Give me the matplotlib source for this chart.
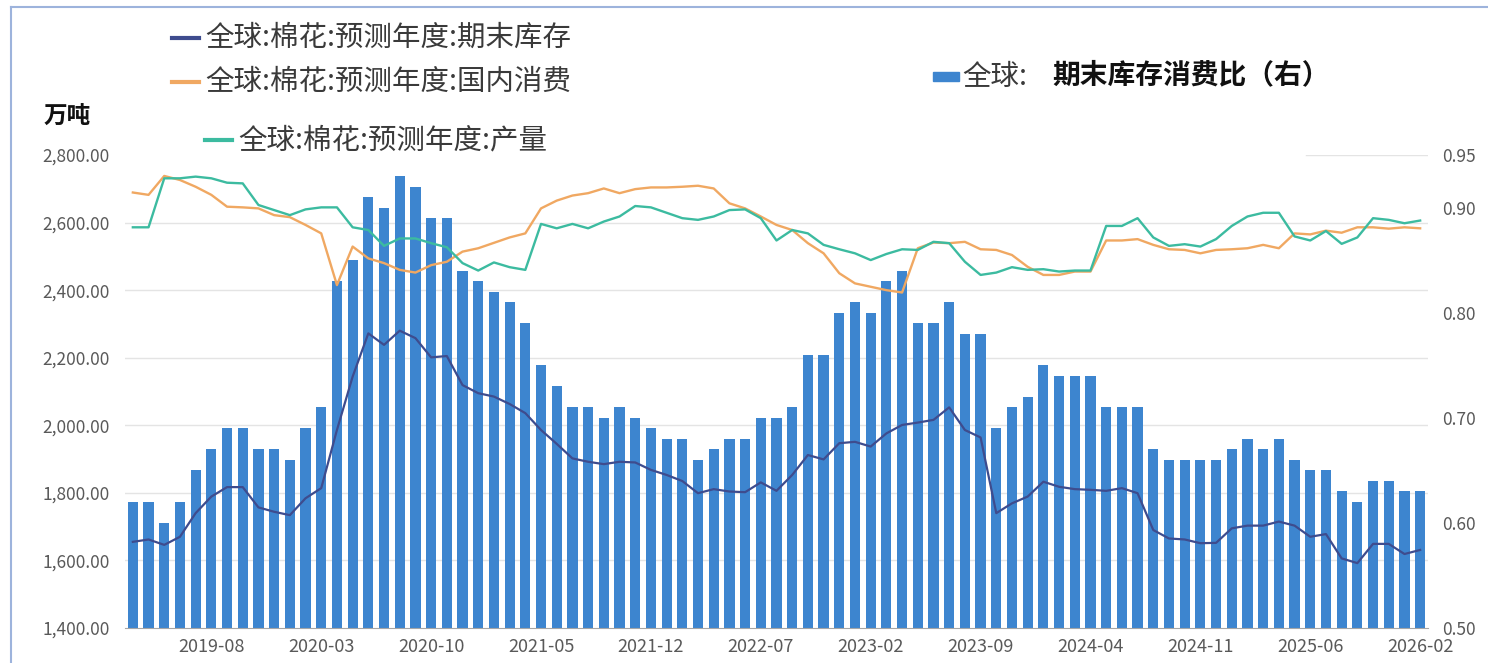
import numpy as np
import pandas as pd
import matplotlib
matplotlib.use("Agg")
import matplotlib.pyplot as plt
from matplotlib.lines import Line2D
from matplotlib.patches import Rectangle

plt.rcParams['font.family'] = ['Noto Sans CJK SC', 'DejaVu Sans']

# WASDE release months (Oct 2025 report was not published)
months = [p.strftime("%Y-%m") for p in pd.period_range("2019-03", "2026-02", freq="M")]
months.remove("2025-10")

# 全球 期末库存消费比 (right axis)
ratio = [0.62, 0.62, 0.60, 0.62, 0.65, 0.67, 0.69, 0.69, 0.67, 0.67,
         0.66, 0.69, 0.71, 0.83, 0.85, 0.91, 0.90, 0.93, 0.92, 0.89,
         0.89, 0.84, 0.83, 0.82, 0.81, 0.79, 0.75, 0.73, 0.71, 0.71,
         0.70, 0.71, 0.70, 0.69, 0.68, 0.68, 0.66, 0.67, 0.68, 0.68,
         0.70, 0.70, 0.71, 0.76, 0.76, 0.80, 0.81, 0.80, 0.83, 0.84,
         0.79, 0.79, 0.81, 0.78, 0.78, 0.69, 0.71, 0.72, 0.75, 0.74,
         0.74, 0.74, 0.71, 0.71, 0.71, 0.67, 0.66, 0.66, 0.66, 0.66,
         0.67, 0.68, 0.67, 0.68, 0.66, 0.65, 0.65, 0.63, 0.62, 0.64,
         0.64, 0.63, 0.63]

# 期末库存 (万吨)
stock = [1655, 1662, 1646, 1670, 1740, 1789, 1817, 1817, 1757, 1744,
         1734, 1784, 1814, 1986, 2144, 2272, 2238, 2280, 2258, 2201,
         2205, 2119, 2095, 2085, 2063, 2036, 1986, 1945, 1902, 1892,
         1885, 1892, 1890, 1868, 1853, 1835, 1799, 1811, 1804, 1802,
         1831, 1806, 1853, 1912, 1899, 1947, 1951, 1937, 1976, 2001,
         2008, 2016, 2053, 1986, 1964, 1740, 1769, 1789, 1833, 1818,
         1811, 1809, 1806, 1814, 1799, 1690, 1665, 1662, 1651, 1652,
         1695, 1703, 1703, 1715, 1703, 1670, 1678, 1606, 1592, 1649,
         1649, 1619, 1631]

# 国内消费 (万吨)
consumption = [2689, 2682, 2738, 2726, 2706, 2682, 2647, 2645, 2642, 2622,
               2616, 2593, 2568, 2415, 2529, 2494, 2480, 2460, 2452, 2474,
               2484, 2514, 2524, 2540, 2556, 2568, 2642, 2665, 2680, 2687,
               2701, 2687, 2699, 2704, 2704, 2706, 2709, 2701, 2657, 2642,
               2618, 2593, 2578, 2539, 2509, 2450, 2420, 2410, 2400, 2393,
               2524, 2541, 2539, 2543, 2521, 2519, 2504, 2469, 2445, 2445,
               2455, 2455, 2547, 2547, 2551, 2534, 2521, 2519, 2509, 2519,
               2521, 2524, 2534, 2524, 2568, 2565, 2576, 2570, 2586, 2586,
               2582, 2586, 2583]

# 产量 (万吨)
production = [2586, 2586, 2731, 2731, 2736, 2731, 2718, 2716, 2652, 2637,
              2622, 2639, 2645, 2645, 2586, 2578, 2531, 2553, 2553, 2539,
              2527, 2480, 2458, 2482, 2468, 2460, 2596, 2583, 2596, 2583,
              2603, 2618, 2649, 2645, 2629, 2613, 2608, 2618, 2637, 2639,
              2613, 2547, 2578, 2568, 2534, 2521, 2509, 2489, 2507, 2521,
              2519, 2543, 2539, 2484, 2445, 2452, 2468, 2460, 2462, 2455,
              2458, 2458, 2590, 2590, 2613, 2556, 2531, 2536, 2529, 2551,
              2590, 2618, 2629, 2629, 2559, 2547, 2575, 2537, 2556, 2613,
              2608, 2598, 2606]

left_ticks = [1400, 1600, 1800, 2000, 2200, 2400, 2600, 2800]
right_ticks = [0.50, 0.60, 0.70, 0.80, 0.90, 0.95]

c_bar = "#3D85CF"
c_stock = "#3E4C8E"
c_cons = "#F0A862"
c_prod = "#3CBBA0"
c_tick = "#595959"

W, H = 1488, 663
fig = plt.figure(figsize=(W / 100, H / 100), dpi=100)
ax = fig.add_axes([125 / W, 35 / H, (1428 - 125) / W, (628 - 155) / H])
ax2 = ax.twinx()

x = np.arange(len(months))

# bars on the right axis, behind the lines
ax2.bar(x, ratio, width=0.65, color=c_bar, zorder=2)
ax2.set_ylim(0.5, 0.95)
ax2.set_yticks(right_ticks)
ax2.set_yticklabels([f"{v:.2f}" for v in right_ticks])

# grid lines follow the left axis but sit under the bars
for v in left_ticks[1:-1]:
    ax2.add_line(Line2D([0, 1], [v, v], transform=ax.get_yaxis_transform(),
                        color="#E4E4E4", lw=1, zorder=1))
ax2.add_line(Line2D([0.906, 1], [2800, 2800], transform=ax.get_yaxis_transform(),
                    color="#E4E4E4", lw=1, zorder=1))

ax.plot(x, stock, color=c_stock, lw=1.6, zorder=3)
ax.plot(x, consumption, color=c_cons, lw=1.7, zorder=3)
ax.plot(x, production, color=c_prod, lw=1.7, zorder=3)
ax.set_ylim(1400, 2800)
ax.set_xlim(-0.5, len(months) - 0.5)
ax.set_yticks(left_ticks)
ax.set_yticklabels([f"{v:,.2f}" for v in left_ticks])

tick_pos = list(range(5, len(months), 7))
ax.set_xticks(tick_pos)
ax.set_xticklabels([months[i] for i in tick_pos])

ax.set_zorder(ax2.get_zorder() + 1)
ax.patch.set_visible(False)

for a in (ax, ax2):
    for s in ("top", "left", "right"):
        a.spines[s].set_visible(False)
    a.spines["bottom"].set_color("#A6A6A6")
ax2.spines["bottom"].set_visible(False)

ax.tick_params(axis="y", length=0, pad=11, labelsize=12.5, labelcolor=c_tick)
ax.tick_params(axis="x", length=0, pad=7, labelsize=13, labelcolor=c_tick)
ax2.tick_params(axis="y", length=0, pad=10, labelsize=12.5, labelcolor=c_tick)


def fx(px):
    return px / W


def fy(py):
    return 1 - py / H


# unit label
fig.text(fx(44), fy(117), "万吨", fontsize=17, fontweight="bold", color="#111111",
         va="center", ha="left")

# line legend entries
entries = [(172, 38, c_stock, "全球:棉花:预测年度:期末库存"),
           (172, 82, c_cons, "全球:棉花:预测年度:国内消费"),
           (205, 140, c_prod, "全球:棉花:预测年度:产量")]
for px, py, col, lbl in entries:
    fig.add_artist(Line2D([fx(px), fx(px + 27)], [fy(py), fy(py)], color=col, lw=3))
    fig.text(fx(px + 33), fy(py), lbl, fontsize=20.5, color="#3A3A3A",
             va="center", ha="left")

# bar legend entry
fig.add_artist(Rectangle((fx(933), fy(81)), fx(26), 9 / H, color=c_bar,
                         transform=fig.transFigure))
fig.text(fx(962), fy(77), "全球:", fontsize=20.5, color="#3A3A3A", va="center", ha="left")
fig.text(fx(1052), fy(75), "期末库存消费比（右）", fontsize=20, fontweight="bold",
         color="#111111", va="center", ha="left")

# outer frame edges
fig.add_artist(Line2D([fx(11), fx(11)], [0, fy(7)], color="#9DB3DC", lw=1.5))
fig.add_artist(Line2D([fx(11), 1], [fy(7), fy(7)], color="#9DB3DC", lw=1.5))

fig.savefig("out.png", dpi=100)
